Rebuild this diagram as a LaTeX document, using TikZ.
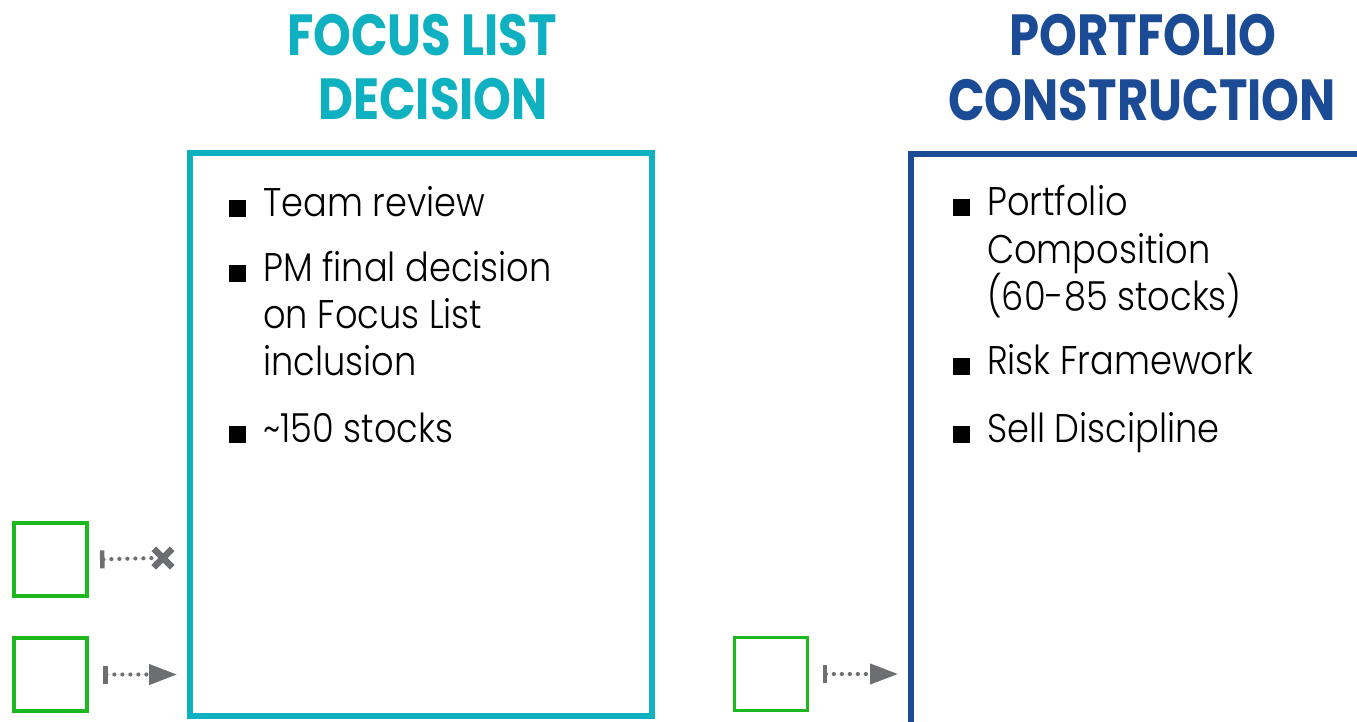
\documentclass[tikz,border=0pt]{standalone}
\usepackage{fontspec}
\setmainfont{Poppins}[UprightFont=* Light, FakeStretch=0.88]
\newfontfamily\headfont{Poppins}[FakeStretch=0.83]
\usetikzlibrary{arrows.meta,shapes.misc}

\definecolor{focuscyan}{HTML}{0FB1C1}
\definecolor{portblue}{HTML}{1B4B95}
\definecolor{seedgreen}{HTML}{1DB81D}
\definecolor{linkgray}{HTML}{6D6E71}

\tikzset{
  linkbar/.tip={Bar[width=18pt,length=4pt,sep=5pt,line width=4.5pt,line cap=butt]},
  linkhead/.tip={Triangle[length=28pt,width=20pt]},
}

\begin{document}
\begin{tikzpicture}[x=1pt,y=-1pt,
  panel/.style={draw, rectangle, line width=5.5pt, inner sep=0pt, outer sep=0pt},
  seed/.style={draw=seedgreen, rectangle, line width=3.5pt, minimum size=73pt, inner sep=0pt, outer sep=0pt},
  headline/.style={font=\headfont\bfseries\fontsize{58}{58}\selectfont, anchor=base, inner sep=0pt},
  itemline/.style={font=\fontsize{40}{47.5}\selectfont, anchor=base west, inner sep=0pt},
  bulletmark/.style={fill=black, rectangle, minimum size=17pt, inner sep=0pt, anchor=south west},
  link/.style={draw=linkgray, fill=linkgray, line width=4.2pt, dash pattern=on 0pt off 8pt, line cap=round},
  stopmark/.style={draw=linkgray, cross out, line width=6.5pt, minimum size=12pt, inner sep=0pt},
]
\useasboundingbox (0,0) rectangle (1357,721);
\clip (0,0) rectangle (1357,721);

% headings
\node[headline, text=focuscyan] (h1a) at (422,55) {FOCUS LIST};
\node[headline, text=focuscyan] (h1b) at (433,119) {DECISION};
\node[headline, text=portblue] (h2a) at (1143,55) {PORTFOLIO};
\node[headline, text=portblue] (h2b) at (1142,120) {CONSTRUCTION};

% panels
\node[panel, draw=focuscyan, minimum width=462pt, minimum height=563pt, anchor=north west] (focus) at (190,153) {};
\node[panel, draw=portblue, minimum width=480pt, minimum height=600pt, anchor=north west] (port) at (911,154) {};

% focus list bullet items
\node[itemline] (f1) at (263,216) {Team review};
\node[itemline] (f2) at (263,281) {PM final decision};
\node[itemline] (f2b) at (263,328) {on Focus List};
\node[itemline] (f2c) at (263,375) {inclusion};
\node[itemline] (f3) at (263,442) {\textasciitilde150 stocks};
\foreach \n in {f1,f2,f3}
  \node[bulletmark] at ([xshift=-34pt,yshift=-1pt]\n.base west) {};

% portfolio construction bullet items
\node[itemline] (p1) at (987,215) {Portfolio};
\node[itemline] (p1b) at (987,263) {Composition};
\node[itemline] (p1c) at (987,310) {(60-85 stocks)};
\node[itemline] (p2) at (987,374) {Risk Framework};
\node[itemline] (p3) at (987,442) {Sell Discipline};
\foreach \n in {p1,p2,p3}
  \node[bulletmark] at ([xshift=-34pt,yshift=-1pt]\n.base west) {};

% candidate squares
\node[seed] (g1) at (50.5,559.5) {};
\node[seed] (g2) at (50.5,674.5) {};
\node[seed] (g3) at (771,674) {};

% connectors
\node[stopmark] (x1) at (163,558) {};
\coordinate (t2) at (focus.west |- g2.east);
\coordinate (t3) at (port.west |- g3.east);
\draw[link, linkbar-] ([xshift=8pt]g1.east) -- ([xshift=-8pt]x1.center);
\draw[link, linkbar-linkhead] ([xshift=11pt]g2.east) -- ([xshift=-13pt]t2);
\draw[link, linkbar-linkhead] ([xshift=10pt]g3.east) -- ([xshift=-13pt]t3);
\end{tikzpicture}
\end{document}
